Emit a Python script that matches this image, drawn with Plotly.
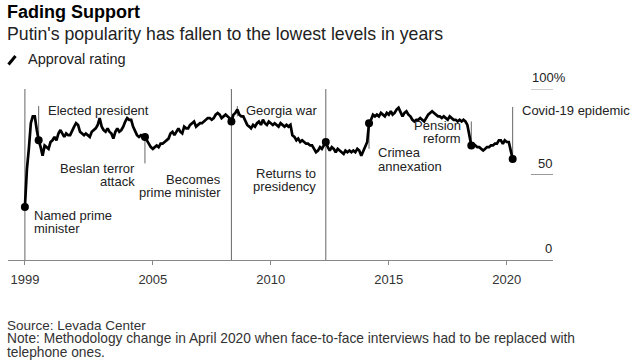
import plotly.graph_objects as go
import pandas as pd

FONT = "Liberation Sans, Arial, sans-serif"

# ---------------- data (Levada Center approval rating, %) ----------------
start_month = "1999-08-01"
v1999 = [31, 53, 65, 80, 84]
v2000 = [84, 76, 70, 66, 61, 67, 66, 65, 69, 70, 72, 70]
v2001 = [74, 76, 74, 72, 74, 73, 73, 76, 78, 80, 79, 75]
v2002 = [74, 73, 74, 73, 72, 75, 76, 77, 79, 83, 78, 76]
v2003 = [75, 77, 75, 74, 71, 75, 77, 75, 76, 78, 81, 83]
v2004 = [82, 82, 78, 75, 73, 72, 73, 72, 72, 70, 68, 66]
v2005 = [65, 66, 67, 66, 68, 68, 69, 70, 71, 74, 75, 73]
v2006 = [75, 77, 75, 74, 78, 77, 77, 79, 80, 81, 78, 79]
v2007 = [80, 80, 81, 82, 83, 83, 82, 83, 85, 86, 85, 83]
v2008 = [84, 85, 84, 83, 81, 85, 86, 88, 85, 84, 84, 81]
v2009 = [79, 78, 77, 79, 78, 80, 81, 79, 82, 80, 79, 81]
v2010 = [80, 79, 80, 79, 78, 80, 79, 78, 79, 78, 79, 73]
v2011 = [72, 70, 71, 69, 70, 69, 68, 68, 67, 67, 65, 63]
v2012 = [64, 66, 65, 67, 69, 66, 64, 66, 65, 63, 65, 64]
v2013 = [63, 62, 64, 63, 64, 63, 64, 63, 65, 64, 61, 64]
v2014 = [66, 69, 80, 82, 85, 84, 85, 84, 86, 85, 84, 86]
v2015 = [85, 87, 85, 86, 88, 89, 86, 84, 86, 87, 85, 84]
v2016 = [82, 81, 82, 82, 83, 82, 81, 83, 85, 86, 87, 86]
v2017 = [85, 84, 84, 83, 84, 83, 82, 84, 83, 82, 82, 81]
v2018 = [82, 81, 82, 81, 79, 72, 67, 68, 67, 66, 66, 65]
v2019 = [64, 65, 66, 66, 67, 67, 68, 68, 70, 70, 68, 70]
v2020 = [69, 69, 64, 59]

event_names = ["Named prime minister", "Elected president", "Beslan terror attack",
               "Becomes prime minister", "Georgia war", "Returns to presidency",
               "Crimea annexation", "Pension reform", "Covid-19 epidemic"]
event_months = ["1999-08-01", "2000-03-01", "2004-09-01", "2008-05-01", "2008-08-01",
                "2012-05-01", "2014-03-01", "2018-07-01", "2020-04-01"]
event_lines = [["Named prime", "minister"], ["Elected president"], ["Beslan terror", "attack"],
               ["Becomes", "prime minister"], ["Georgia war"], ["Returns to", "presidency"],
               ["Crimea", "annexation"], ["Pension", "reform"], ["Covid-19 epidemic"]]
event_has_dot = [True, True, True, True, False, True, True, True, True]

tick_dates = ["1999-08-01", "2005-01-01", "2010-01-01", "2015-01-01", "2020-01-01"]
tick_labels = ["1999", "2005", "2010", "2015", "2020"]

y_label_values = [100, 50, 0]
y_label_texts = ["100%", "50", "0"]

values = (v1999 + v2000 + v2001 + v2002 + v2003 + v2004 + v2005 + v2006 + v2007 + v2008 +
          v2009 + v2010 + v2011 + v2012 + v2013 + v2014 + v2015 + v2016 + v2017 + v2018 +
          v2019 + v2020)
months = pd.date_range(start_month, periods=len(values), freq="MS")
series = pd.Series(values, index=months)

# ---------------- layout / style ----------------
W, H = 634, 361
ML, MR, MT, MB = 8, 81, 89, 101
PW = W - ML - MR
PH = H - MT - MB


def px_x(x):
    return (x - ML) / PW


def px_y(y):
    return (H - MB - y) / PH


start = pd.Timestamp(start_month)
px_per_day = 23.6 / 365.25
x_left = start - pd.Timedelta(days=(24.9 - ML) / px_per_day)
x_right = start + pd.Timedelta(days=(W - MR - 24.9) / px_per_day)

fig = go.Figure()
fig.add_trace(go.Scatter(x=months, y=values, mode="lines",
                         line=dict(color="black", width=2.7), hoverinfo="skip"))

dot_x = [pd.Timestamp(d) for d, h in zip(event_months, event_has_dot) if h]
dot_y = [series[pd.Timestamp(d)] for d, h in zip(event_months, event_has_dot) if h]
fig.add_trace(go.Scatter(x=dot_x, y=dot_y, mode="markers",
                         marker=dict(color="black", size=8), hoverinfo="skip"))

shapes = []
# event lines: (y0, y1) in data units, style only
event_line_span = {
    "Named prime minister": (0, 100),
    "Elected president": (70, 90),
    "Beslan terror attack": (56.5, 72),
    "Becomes prime minister": (0, 100),
    "Georgia war": (84, 90),
    "Returns to presidency": (0, 100),
    "Crimea annexation": (65, 80),
    "Pension reform": (67, 81),
    "Covid-19 epidemic": (59, 89.5),
}
for name, d in zip(event_names, event_months):
    y0, y1 = event_line_span[name]
    shapes.append(dict(type="line", xref="x", yref="y", x0=d, x1=d, y0=y0, y1=y1,
                       line=dict(color="#666", width=1), layer="below"))

# short right-hand gridlines
for v in y_label_values[:-1]:
    shapes.append(dict(type="line", xref="paper", yref="y", x0=px_x(531), x1=1, y0=v, y1=v,
                       line=dict(color="#999", width=1)))

# legend icon
shapes.append(dict(type="line", xref="paper", yref="paper", x0=px_x(8.5), x1=px_x(15.5),
                   y0=px_y(64.5), y1=px_y(56), line=dict(color="black", width=3)))

annotations = []
# event label placement: side, xshift, first line centre (data units)
label_place = {
    "Named prime minister": ("left", 7, 26.0),
    "Elected president": ("left", 7, 87.4),
    "Beslan terror attack": ("right", -8, 53.7),
    "Becomes prime minister": ("right", -8, 47.1),
    "Georgia war": ("left", 7, 87.4),
    "Returns to presidency": ("right", -8, 50.8),
    "Crimea annexation": ("left", 7, 62.7),
    "Pension reform": ("right", -8, 78.7),
    "Covid-19 epidemic": ("left", 7, 87.4),
}
line_step = 13.4 / (PH / 100)
for name, d, lines in zip(event_names, event_months, event_lines):
    anchor, xs, ytop = label_place[name]
    for i, t in enumerate(lines):
        annotations.append(dict(x=d, y=ytop - i * line_step, xref="x", yref="y", text=t,
                                showarrow=False, xanchor=anchor, yanchor="middle", xshift=xs,
                                font=dict(family=FONT, size=13, color="#222")))

# right-hand value labels (paper y == value / 100 because the y range is 0..100)
y_label_centres = [106.8, 56.5, 6.8]
for t, yc in zip(y_label_texts, y_label_centres):
    if t.endswith("%"):
        annotations.append(dict(x=px_x(529.5), y=yc / 100, xref="paper", yref="paper", text=t,
                                showarrow=False, xanchor="left", yanchor="middle",
                                font=dict(family=FONT, size=13, color="#222")))
    else:
        annotations.append(dict(x=1, y=yc / 100, xref="paper", yref="paper", text=t,
                                showarrow=False, xanchor="right", yanchor="middle", xshift=1,
                                font=dict(family=FONT, size=13, color="#222")))

# titles, legend, notes
annotations += [
    dict(x=px_x(5), y=px_y(12), xref="paper", yref="paper", text="<b>Fading Support</b>",
         showarrow=False, xanchor="left", yanchor="middle",
         font=dict(family=FONT, size=18, color="black")),
    dict(x=px_x(5), y=px_y(33.5), xref="paper", yref="paper",
         text="Putin's popularity has fallen to the lowest levels in years",
         showarrow=False, xanchor="left", yanchor="middle",
         font=dict(family=FONT, size=17.7, color="#222")),
    dict(x=px_x(26), y=px_y(58.5), xref="paper", yref="paper", text="Approval rating",
         showarrow=False, xanchor="left", yanchor="middle",
         font=dict(family=FONT, size=14.5, color="#222")),
    dict(x=px_x(5), y=px_y(325), xref="paper", yref="paper", text="Source: Levada Center",
         showarrow=False, xanchor="left", yanchor="middle",
         font=dict(family=FONT, size=13.5, color="#333")),
    dict(x=px_x(5), y=px_y(338.5), xref="paper", yref="paper",
         text="Note: Methodology change in April 2020 when face-to-face interviews had to be replaced with",
         showarrow=False, xanchor="left", yanchor="middle",
         font=dict(family=FONT, size=13.75, color="#333")),
    dict(x=px_x(5), y=px_y(352.5), xref="paper", yref="paper", text="telephone ones.",
         showarrow=False, xanchor="left", yanchor="middle",
         font=dict(family=FONT, size=13.75, color="#333")),
]

fig.update_layout(
    width=W, height=H,
    margin=dict(l=ML, r=MR, t=MT, b=MB, pad=0),
    paper_bgcolor="white", plot_bgcolor="white",
    showlegend=False,
    shapes=shapes, annotations=annotations,
    xaxis=dict(type="date", range=[x_left, x_right], tickvals=tick_dates, ticktext=tick_labels,
               showgrid=False, zeroline=False, showline=True, linecolor="#888", linewidth=1,
               ticks="outside", ticklen=4, tickcolor="#888", tickwidth=1,
               tickfont=dict(family=FONT, size=13, color="#333"), ticklabelstandoff=3,
               fixedrange=True),
    yaxis=dict(range=[0, 100], visible=False, fixedrange=True),
)

fig.write_html("out.html", config={"displayModeBar": False},
               post_script="document.body.style.margin='0';document.body.style.padding='0';")
